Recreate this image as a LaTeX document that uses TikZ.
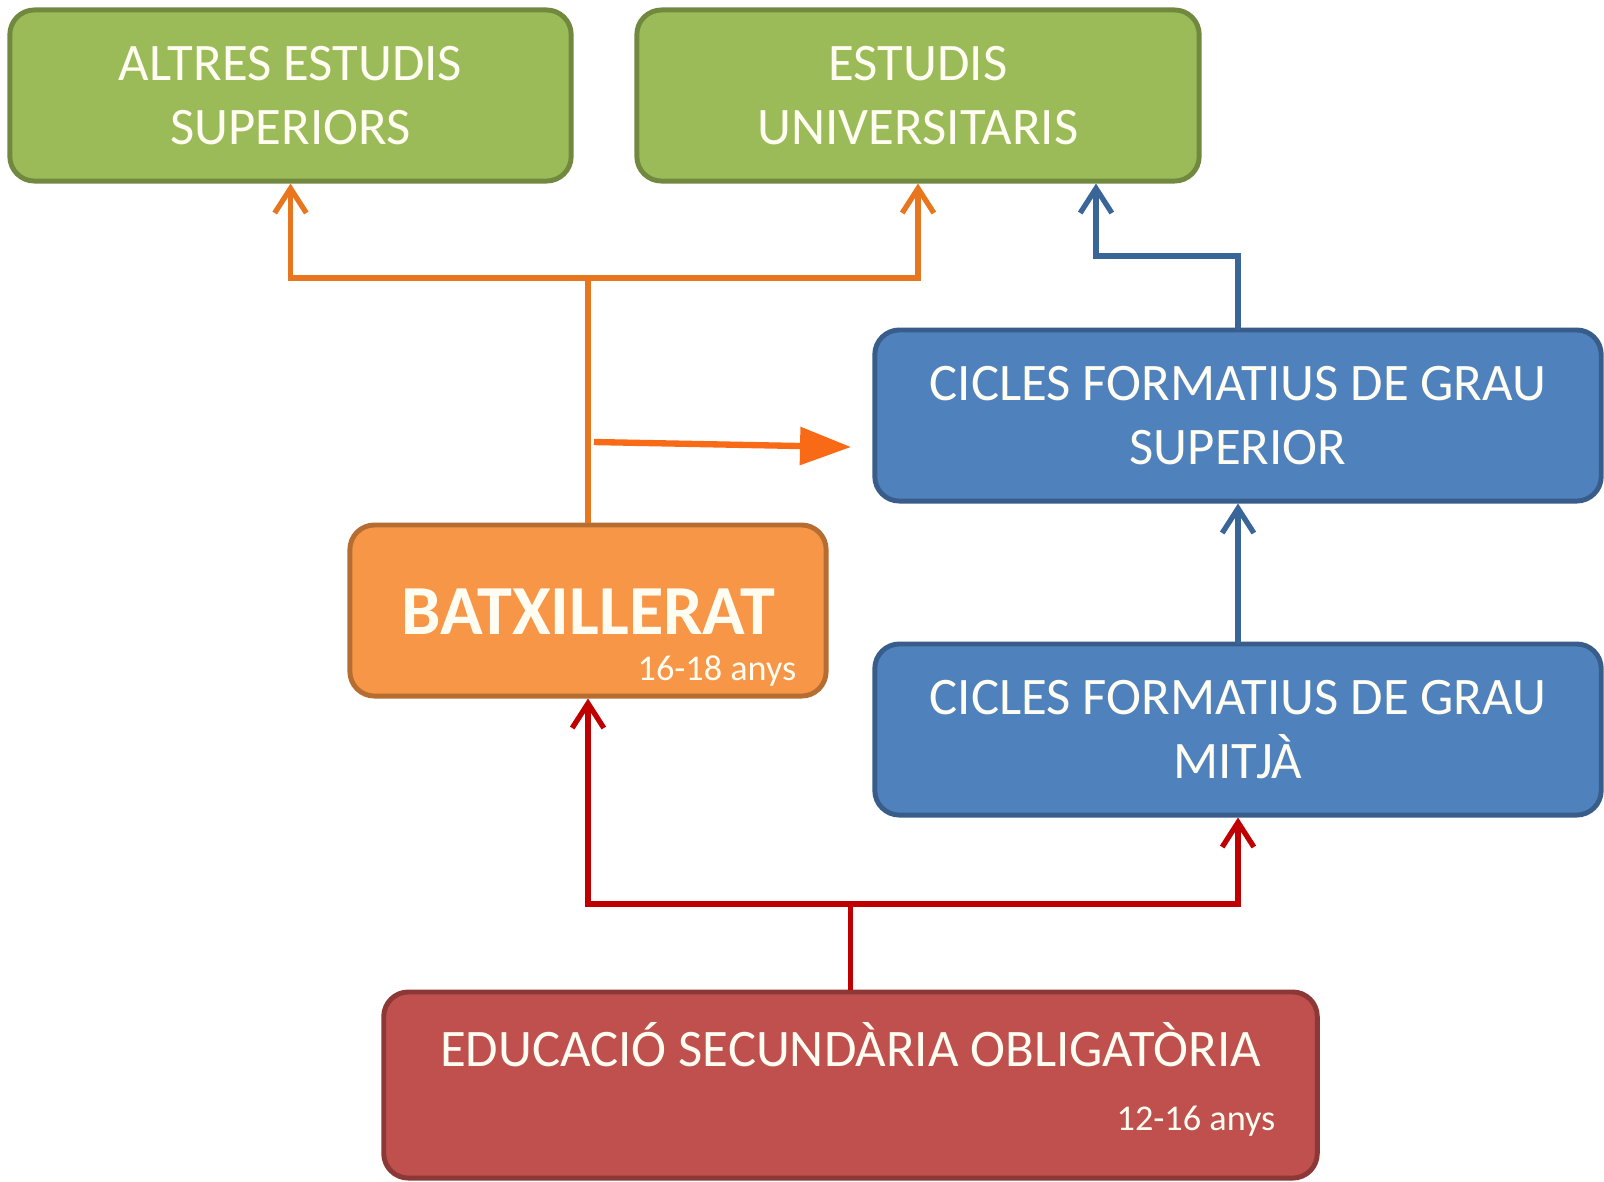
\documentclass[tikz,border=0pt]{standalone}
\usepackage{fontspec}
\setmainfont{Carlito}
\usetikzlibrary{arrows.meta}
\definecolor{gfill}{HTML}{9BBB59}\definecolor{gline}{HTML}{71893F}
\definecolor{bfill}{HTML}{4F81BD}\definecolor{bline}{HTML}{385D8A}
\definecolor{ofill}{HTML}{F79646}\definecolor{oline}{HTML}{B66D31}
\definecolor{rfill}{HTML}{C0504D}\definecolor{rline}{HTML}{8C3836}
\definecolor{oconn}{HTML}{E8761E}
\definecolor{bconn}{HTML}{3A6599}
\definecolor{rconn}{HTML}{C00000}
\definecolor{obig}{HTML}{F96A16}
\definecolor{txt}{HTML}{FFFDF2}
\begin{document}
\begin{tikzpicture}[x=0.01cm,y=-0.01cm,
  box/.style={draw, rounded corners=7pt, line width=1.4pt, inner sep=0pt,
    align=center, text=txt, font=\fontsize{15}{18.3}\selectfont,
    minimum height=1.71cm},
  gbox/.style={box, fill=gfill, draw=gline},
  bbox/.style={box, fill=bfill, draw=bline},
  obox/.style={box, fill=ofill, draw=oline},
  rbox/.style={box, fill=rfill, draw=rline},
  conn/.style={line width=1.5pt, line cap=round, line join=miter,
    -{Straight Barb[length=7pt,width=9pt,line width=1.5pt]}},
  seg/.style={line width=1.5pt},
  small/.style={text=txt, font=\fontsize{10.3}{12}\selectfont, inner sep=0pt}
]
\useasboundingbox (0,0) rectangle (1604,1181);
\fill[white] (0,0) rectangle (1604,1181);

% boxes
\node[gbox, minimum width=5.61cm] (g1) at (290.5,95.5) {ALTRES ESTUDIS\\SUPERIORS};
\node[gbox, minimum width=5.62cm] (g2) at (918,95.5) {ESTUDIS\\UNIVERSITARIS};
\node[bbox, minimum width=7.26cm] (cfgs) at (1238,415.5) {CICLES FORMATIUS DE GRAU\\SUPERIOR};
\node[bbox, minimum width=7.26cm] (cfgm) at (1238,729.5) {CICLES FORMATIUS DE GRAU\\MITJÀ};
\node[obox, minimum width=4.76cm] (batx) at (588,610.5) {};
\node[text=txt, font=\fontsize{20}{24}\bfseries\selectfont, inner sep=0pt] (batxt) at (588,612) {BATXILLERAT};
\node[small, anchor=base east] (batxa) at (797,680) {16-18 anys};
\node[rbox, minimum width=9.33cm, minimum height=1.86cm] (eso) at (850.5,1085) {};
\node[text=txt, font=\fontsize{15}{18}\selectfont, inner sep=0pt] (esot) at (850.5,1045) {EDUCACIÓ SECUNDÀRIA OBLIGATÒRIA};
\node[small, anchor=base east] (esoa) at (1276,1130) {12-16 anys};

% orange connectors
\coordinate (oj) at (588,278);
\draw[seg, oconn] (batx.north) -- (oj);
\draw[conn, oconn] (oj) -| (g1.south);
\draw[conn, oconn] (oj) -| (g2.south);

% blue connectors
\coordinate (bj) at (1096,256);
\draw[conn, bconn] (cfgs.north) |- (bj) -- (bj |- g2.south);
\draw[conn, bconn] (cfgm.north) -- (cfgs.south);

% red connectors
\coordinate (rj) at (850.5,904);
\draw[seg, rconn] (eso.north) -- (rj);
\draw[conn, rconn] (rj) -| (batx.south);
\draw[conn, rconn] (rj) -| (cfgm.south);

% big orange arrow
\coordinate (ba) at (594,442);
\coordinate (bb) at (851,447);
\draw[obig, line width=1.8pt, -{Triangle[length=14.5pt,width=10.5pt]}] (ba) -- (bb);
\end{tikzpicture}
\end{document}
